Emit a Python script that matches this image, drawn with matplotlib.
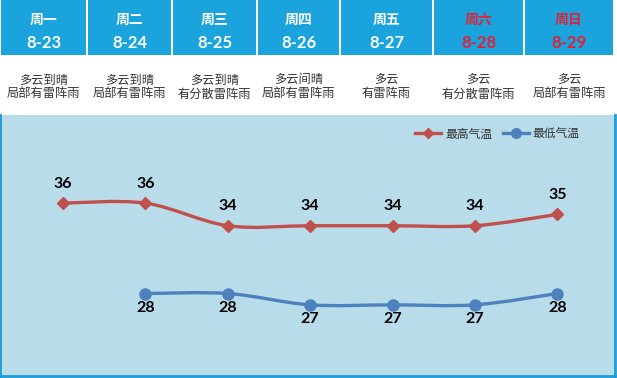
import matplotlib
matplotlib.use("Agg")
import matplotlib.pyplot as plt
from matplotlib.path import Path
from matplotlib.patches import PathPatch, Rectangle
from matplotlib.lines import Line2D

plt.rcParams['font.family'] = ['Lato', 'Noto Sans CJK SC', 'DejaVu Sans']

days = ["周一", "周二", "周三", "周四", "周五", "周六", "周日"]
dates = ["8-23", "8-24", "8-25", "8-26", "8-27", "8-28", "8-29"]
weather_1 = ["多云到晴", "多云到晴", "多云到晴", "多云间晴", "多云", "多云", "多云"]
weather_2 = ["局部有雷阵雨", "局部有雷阵雨", "有分散雷阵雨", "局部有雷阵雨",
             "有雷阵雨", "有分散雷阵雨", "局部有雷阵雨"]
weekend = [False, False, False, False, False, True, True]
high = [36, 36, 34, 34, 34, 34, 35]
low = [None, 28, 28, 27, 27, 27, 28]

W, H = 617, 378
HEADER_BLUE = "#1aa3dc"
BG_BLUE = "#b9dcea"
RED = "#c0504d"
BLUE = "#4f81bd"


def fx(px):
    return px / W


def fy(py):
    return 1 - py / H


def smooth_path(xs, ys):
    # Catmull-Rom style bezier, like Excel "smoothed line"
    verts = [(xs[0], ys[0])]
    codes = [Path.MOVETO]
    n = len(xs)
    for i in range(n - 1):
        x0, y0 = (xs[i - 1], ys[i - 1]) if i > 0 else (xs[i], ys[i])
        x3, y3 = (xs[i + 2], ys[i + 2]) if i + 2 < n else (xs[i + 1], ys[i + 1])
        c1 = (xs[i] + (xs[i + 1] - x0) / 6, ys[i] + (ys[i + 1] - y0) / 6)
        c2 = (xs[i + 1] - (x3 - xs[i]) / 6, ys[i + 1] - (y3 - ys[i]) / 6)
        verts += [c1, c2, (xs[i + 1], ys[i + 1])]
        codes += [Path.CURVE4] * 3
    return Path(verts, codes)


fig = plt.figure(figsize=(W / 100, H / 100), dpi=100)
fig.patch.set_facecolor("white")

# header columns
col_edges = [0, 87, 172, 257, 340, 433, 524, 614]
for i in range(len(days)):
    l, r = col_edges[i], col_edges[i + 1]
    fig.patches.append(Rectangle((fx(l + 1), fy(55)), fx(r - l - 2), 55 / H,
                                 transform=fig.transFigure, facecolor=HEADER_BLUE,
                                 edgecolor="none", zorder=0))
    cx = fx((l + r) / 2)
    c = "#e0213b" if weekend[i] else "white"
    fig.text(cx, fy(20), days[i], ha="center", va="center", color=c,
             fontsize=10, fontweight="bold")
    fig.text(cx, fy(43), dates[i], ha="center", va="center", color=c,
             fontsize=12, fontweight="bold")
    fig.text(cx, fy(80), weather_1[i], ha="center", va="center", color="#333333",
             fontsize=8.8, family=['Noto Sans CJK SC', 'DejaVu Sans'])
    fig.text(cx, fy(94), weather_2[i], ha="center", va="center", color="#333333",
             fontsize=8.8, family=['Noto Sans CJK SC', 'DejaVu Sans'])

# chart
ax = fig.add_axes([0, fy(376), fx(615), (376 - 115) / H])
ax.set_facecolor(BG_BLUE)
ax.set_xlim(-0.765, 6.70)
ax.set_ylim(20.7, 43.8)
ax.set_xticks([])
ax.set_yticks([])
for s in ["left", "right", "bottom"]:
    ax.spines[s].set_color("#1e9dd8")
    ax.spines[s].set_linewidth(2)
ax.spines["top"].set_visible(False)

x = list(range(len(days)))
ax.add_patch(PathPatch(smooth_path(x, high), fill=False, edgecolor=RED, lw=2.4,
                       capstyle="round", zorder=2))
ax.plot(x, high, ls="none", marker="D", ms=6, color=RED, zorder=3)
for xi, v in zip(x, high):
    ax.annotate(str(v), (xi, v), xytext=(0, 14), textcoords="offset points",
                ha="center", va="center", fontsize=11.5, fontweight="bold", color="black")

lx = [xi for xi, v in zip(x, low) if v is not None]
lv = [v for v in low if v is not None]
ax.add_patch(PathPatch(smooth_path(lx, lv), fill=False, edgecolor=BLUE, lw=2.4,
                       capstyle="round", zorder=2))
ax.plot(lx, lv, ls="none", marker="o", ms=8, color=BLUE, zorder=3)
for xi, v in zip(lx, lv):
    ax.annotate(str(v), (xi, v), xytext=(0, -10.5), textcoords="offset points",
                ha="center", va="center", fontsize=11.5, fontweight="bold", color="black")

handles = [Line2D([], [], color=RED, lw=2.4, marker="D", ms=5),
           Line2D([], [], color=BLUE, lw=2.4, marker="o", ms=7)]
ax.legend(handles, ["最高气温", "最低气温"], loc="center right",
          bbox_to_anchor=(fx(585), fy(134)), bbox_transform=fig.transFigure,
          ncol=2, frameon=False, handlelength=2.2, handletextpad=0.3,
          columnspacing=0.9, borderpad=0,
          prop={"family": ['Noto Sans CJK SC', 'DejaVu Sans'], "size": 8.5},
          labelcolor="#333333")

fig.savefig("out.png", dpi=100, facecolor="white")
